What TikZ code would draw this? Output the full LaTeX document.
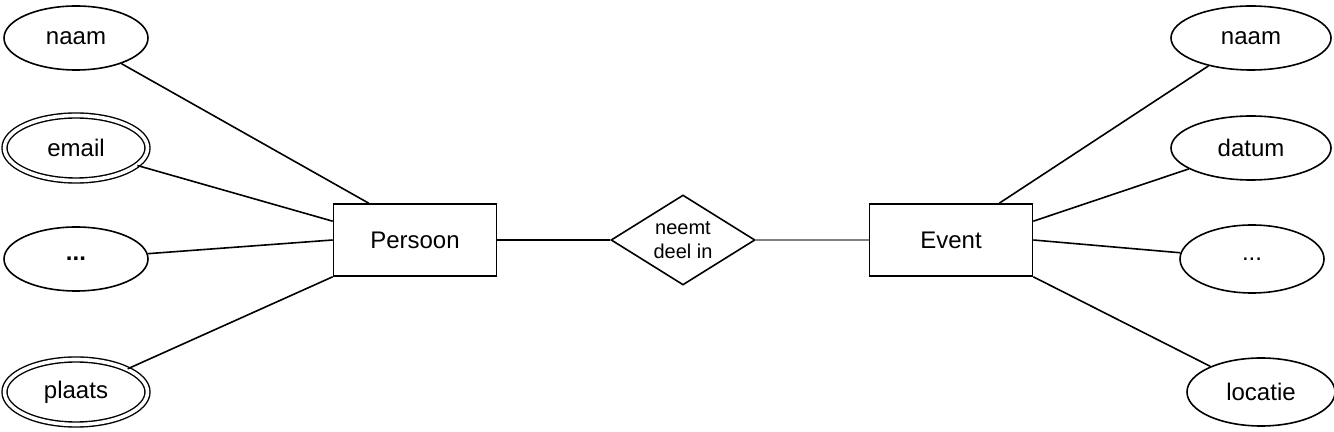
\documentclass[tikz,border=0pt]{standalone}
\usepackage{fontspec}
\setmainfont{Liberation Sans}
\usetikzlibrary{shapes.geometric}

\tikzset{
    attrib/.style={draw, ellipse, line width=0.8pt, inner sep=0pt,
        minimum width=72pt, minimum height=32pt, font=\fontsize{12}{14}\selectfont},
    multiattrib/.style={attrib, double, double distance=1.8pt, line width=0.7pt,
        minimum width=71.5pt, minimum height=32.5pt},
    entity/.style={draw, rectangle, line width=0.8pt, minimum width=81.5pt,
        minimum height=36pt, font=\fontsize{12}{14}\selectfont},
    relation/.style={draw, diamond, aspect=1.6, line width=0.8pt, inner sep=0pt,
        minimum width=72pt, minimum height=45pt, align=center,
        font=\fontsize{10}{12}\selectfont},
    link/.style={line width=0.8pt}
}

\begin{document}
\begin{tikzpicture}[x=0.5pt, y=-0.5pt]
    \useasboundingbox (0,0) rectangle (1334,432);
    \node[entity] (pers) at (415,240) {Persoon};
    \node[relation] (deel) at (683,240) {neemt\\deel in};
    \node[entity] (ev) at (951,240) {Event};

    \node[attrib] (naamP) at (76,38) {naam};
    \node[multiattrib] (email) at (76,148) {email};
    \node[attrib] (restP) at (76,259) {\textbf{...}};
    \node[multiattrib] (plaats) at (76,392) {plaats};

    \node[attrib, minimum width=80pt] (naamE) at (1251,38) {naam};
    \node[attrib, minimum width=80pt] (datum) at (1251,148) {datum};
    \node[attrib, minimum height=34pt] (restE) at (1252,259) {...};
    \node[attrib, minimum width=74pt, minimum height=34pt] (locatie) at (1261,392) {locatie};

    \draw[link] (naamP) -- ([xshift=18pt]pers.north west);
    \draw[link] (email) -- ([yshift=-9pt]pers.north west);
    \draw[link] (restP) -- (pers.west);
    \draw[link] (plaats) -- (pers.south west);

    \draw[link] (naamE) -- ([xshift=-17pt]ev.north east);
    \draw[link] (datum) -- ([yshift=-9pt]ev.north east);
    \draw[link] (restE) -- (ev.east);
    \draw[link] (locatie) -- (ev.south east);

    \draw[link] (pers) -- (deel);
    \draw[link, gray] (deel) -- (ev);
\end{tikzpicture}
\end{document}
